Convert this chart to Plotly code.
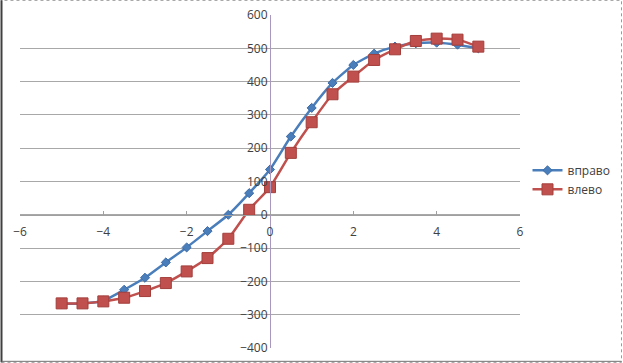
import plotly.graph_objects as go

x_vals = [-5, -4.5, -4, -3.5, -3, -2.5, -2, -1.5, -1, -0.5, 0, 0.5, 1, 1.5, 2, 2.5, 3, 3.5, 4, 4.5, 5]
vpravo = [-267, -266, -258, -225, -189, -143, -98, -49, 0, 65, 136, 235, 321, 396, 450, 484, 505, 515, 517, 511, 500]
vlevo = [-266, -266, -260, -249, -229, -205, -170, -130, -72, 15, 83, 186, 278, 362, 415, 465, 497, 522, 529, 526, 505]
series_names = ["вправо", "влево"]
x_ticks = [-6, -4, -2, 0, 2, 4, 6]
y_ticks = [-400, -300, -200, -100, 0, 100, 200, 300, 400, 500, 600]

font = dict(family="Open Sans, Liberation Sans, sans-serif", size=12, color="#404040")

fig = go.Figure()
fig.add_trace(go.Scatter(
    x=x_vals, y=vpravo, name=series_names[0], mode="lines+markers",
    line=dict(color="#4a7ebb", width=2.5, shape="spline", smoothing=0.5),
    marker=dict(symbol="diamond", size=7, color="#4a7ebb", line=dict(color="#3d6ca8", width=1)),
))
fig.add_trace(go.Scatter(
    x=x_vals, y=vlevo, name=series_names[1], mode="lines+markers",
    line=dict(color="#c0504d", width=2.5, shape="spline", smoothing=0.5),
    marker=dict(symbol="square", size=11, color="#c0504d", line=dict(color="#a33e3b", width=1)),
))

fig.update_layout(
    width=623, height=363,
    margin=dict(l=20, r=103, t=15, b=15, autoexpand=False),
    paper_bgcolor="white", plot_bgcolor="white",
    font=font,
    showlegend=True,
    legend=dict(x=1.015, y=0.505, xanchor="left", yanchor="middle",
                font=dict(size=12, color="#404040"), bgcolor="rgba(0,0,0,0)",
                itemwidth=30, tracegroupgap=4),
    xaxis=dict(range=[-6, 6], tickvals=x_ticks, showgrid=False, zeroline=False,
               showline=True, linecolor="#a0a0a0", linewidth=1, automargin=False,
               anchor="free", position=0.4, ticks="inside", ticklen=4, tickcolor="#a0a0a0",
               ticklabelstandoff=6, tickfont=font),
    yaxis=dict(range=[-400, 600], tickvals=y_ticks, showgrid=True, gridcolor="#a8a8a8", gridwidth=1,
               zeroline=False, showline=True, linecolor="#a898c0", linewidth=1, automargin=False,
               anchor="free", position=0.5, ticks="", tickfont=font),
    shapes=[
        dict(type="rect", xref="paper", yref="paper", x0=-0.037, x1=1.203, y0=-0.043, y1=1.044,
             line=dict(color="#9a9a9a", width=1, dash="dot"), layer="below"),
        dict(type="line", xref="paper", yref="paper", x0=-0.037, x1=-0.037, y0=-0.043, y1=1.044,
             line=dict(color="#404040", width=2)),
        dict(type="line", xref="paper", yref="paper", x0=-0.037, x1=1.203, y0=-0.04, y1=-0.04,
             line=dict(color="#707070", width=1)),
    ],
)

fig.write_html("out.html", config={"displayModeBar": False},
               post_script="document.body.style.margin='0';document.body.style.overflow='hidden';")
